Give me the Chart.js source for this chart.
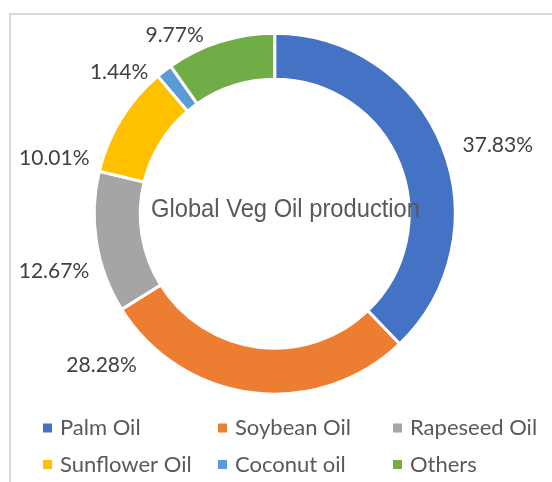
<!DOCTYPE html>
<html>
<head>
<meta charset="utf-8">
<script src="https://cdn.jsdelivr.net/npm/chart.js@4"></script>
<style>
  body { margin: 0; background: #fff; }
  #wrap { position: relative; width: 552px; height: 482px; overflow: hidden; }
  #frame { position: absolute; left: 9px; top: 13px; width: 600px; height: 520px;
           border-left: 2px solid #d9d9d9; border-top: 2px solid #d9d9d9; }
  canvas { position: absolute; left: 0; top: 0; }
</style>
</head>
<body>
<div id="wrap">
  <div id="frame"></div>
  <canvas id="oilChart" width="552" height="482"></canvas>
</div>
<script>
var labels = ['Palm Oil', 'Soybean Oil', 'Rapeseed Oil', 'Sunflower Oil', 'Coconut oil', 'Others'];
var shares = [37.83, 28.28, 12.67, 10.01, 1.44, 9.77];
var colors = ['#4472C4', '#ED7D31', '#A5A5A5', '#FFC000', '#5B9BD5', '#70AD47'];
var centerTitle = 'Global Veg Oil production';

// where Excel put each % label, relative to the middle of the arc's outer edge
var labelShift = [[57, -2], [-151, -26], [-44, 29], [-68, 38], [-46, 0], [-46, -8]];

var ringWidth = 3;

var extras = {
    id: 'extras',
    afterDraw: function(chart) {
        var ctx = chart.ctx;
        var meta = chart.getDatasetMeta(0);

        // percentage labels
        ctx.save();
        ctx.font = '21px Lato';
        ctx.fillStyle = '#404040';
        ctx.textAlign = 'center';
        ctx.textBaseline = 'middle';
        meta.data.forEach(function(arc, i) {
            var p = arc.getProps(['x', 'y', 'startAngle', 'endAngle', 'outerRadius'], true);
            var mid = (p.startAngle + p.endAngle) / 2;
            var r = p.outerRadius - ringWidth / 2;
            var x = p.x + r * Math.cos(mid) + labelShift[i][0];
            var y = p.y + r * Math.sin(mid) + labelShift[i][1];
            ctx.fillText(shares[i].toFixed(2) + '%', x, y);
        });
        ctx.restore();

        // title in the hole
        ctx.save();
        ctx.font = '25px "Liberation Sans Narrow", "Liberation Sans"';
        ctx.fillStyle = '#595959';
        ctx.textBaseline = 'alphabetic';
        var w = ctx.measureText(centerTitle).width;
        var sx = 269 / w;
        ctx.translate(151, 216.5);
        ctx.scale(sx, 1);
        ctx.fillText(centerTitle, 0, 0);
        ctx.restore();

        // legend, 3 columns x 2 rows
        ctx.save();
        ctx.font = '22px Lato';
        ctx.textBaseline = 'middle';
        labels.forEach(function(lab, i) {
            var col = i % 3, row = Math.floor(i / 3);
            var x = 43 + col * 175;
            var y = 428 + row * 36.5;
            ctx.fillStyle = colors[i];
            ctx.fillRect(x, y - 4.5, 9, 9);
            ctx.fillStyle = '#595959';
            ctx.fillText(lab, x + 17, y);
        });
        ctx.restore();
    }
};

new Chart(document.getElementById('oilChart'), {
    type: 'doughnut',
    data: {
        labels: labels,
        datasets: [{
            data: shares,
            backgroundColor: colors,
            borderColor: '#ffffff',
            borderWidth: ringWidth,
            hoverOffset: 0
        }]
    },
    options: {
        responsive: false,
        animation: false,
        radius: 180.5,
        cutout: '74.5%',
        layout: { padding: { left: 0, right: 2.6, top: 0, bottom: 54.6 } },
        plugins: {
            legend: { display: false },
            title: { display: false },
            tooltip: { enabled: false }
        }
    },
    plugins: [extras]
});
</script>
</body>
</html>
